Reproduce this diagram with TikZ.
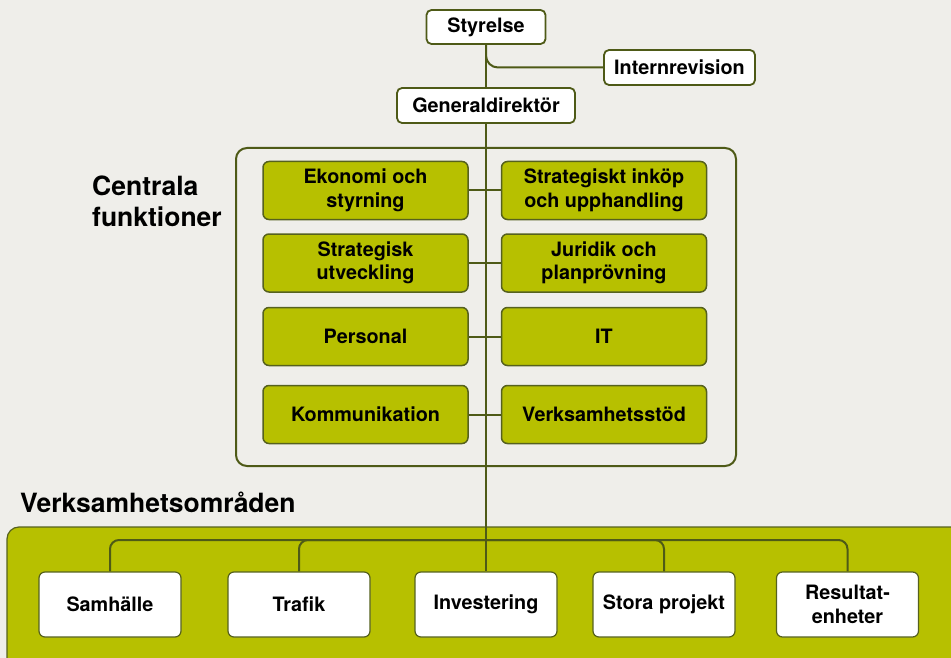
\documentclass[tikz,border=0pt]{standalone}
\usepackage{fontspec}
\setmainfont{TeX Gyre Heros}
\usetikzlibrary{calc}
\definecolor{bgc}{HTML}{EFEEEA}
\definecolor{gr}{HTML}{B7C000}
\definecolor{ln}{HTML}{4E5A17}
\definecolor{bd}{HTML}{56611E}
\tikzset{
  boxtxt/.style={font=\fontsize{19.8}{23.5}\selectfont\bfseries, align=center, text=black},
  whitebox/.style={boxtxt, draw=ln, line width=1.8pt, fill=white, rounded corners=5pt, inner sep=0pt},
  greenbox/.style={boxtxt, draw=bd, line width=1.5pt, fill=gr, rounded corners=6pt, inner sep=0pt, minimum width=205pt, minimum height=58pt},
  areabox/.style={boxtxt, draw=bd, line width=1.2pt, fill=white, rounded corners=6pt, inner sep=0pt, minimum width=142pt, minimum height=65pt},
  conn/.style={draw=ln, line width=2pt},
  head/.style={font=\fontsize{26.5}{31}\selectfont\bfseries, align=left, inner sep=0pt, text=black}
}
\begin{document}
\begin{tikzpicture}[x=1pt,y=-1pt]
\fill[bgc] (0,0) rectangle (951,658);
\useasboundingbox (0,0) rectangle (951,658);
% frames
\draw[draw=ln, line width=2pt, rounded corners=11pt] (236,148) rectangle (736,466);
\draw[draw=bd, line width=1.2pt, fill=gr, rounded corners=12pt] (7,527) rectangle (965,670);
% top nodes
\node[whitebox, minimum width=119pt, minimum height=34pt] (sty) at (486,27) {Styrelse};
\node[whitebox, minimum width=151pt, minimum height=35pt] (intr) at (679.5,67.5) {Internrevision};
\node[whitebox, minimum width=178pt, minimum height=35pt] (gd) at (486,105.5) {Generaldirektör};
% central functions
\node[greenbox] (l1) at (365.5,190.5) {Ekonomi och\\styrning};
\node[greenbox] (r1) at (604,190.5) {Strategiskt inköp\\och upphandling};
\node[greenbox] (l2) at (365.5,263) {Strategisk\\utveckling};
\node[greenbox] (r2) at (604,263) {Juridik och\\planprövning};
\node[greenbox] (l3) at (365.5,336.5) {Personal};
\node[greenbox] (r3) at (604,336.5) {IT};
\node[greenbox] (l4) at (365.5,414.5) {Kommunikation};
\node[greenbox] (r4) at (604,414.5) {Verksamhetsstöd};
% areas
\node[areabox] (sam) at (110,604.5) {Samhälle};
\node[areabox] (tra) at (299,604.5) {Trafik};
\node[areabox] (inv) at (486,604.5) {Investering};
\node[areabox] (sto) at (664,604.5) {Stora projekt};
\node[areabox] (res) at (847.5,604.5) {Resultat-\\enheter};
% headings
\node[head, anchor=base west] (cf) at (92,226) {Centrala\\funktioner};
\node[head, anchor=base west] (vo) at (20,512) {Verksamhetsområden};
% connectors
\coordinate (hb) at (486,540);
\draw[conn] (sty.south) -- (gd.north);
\draw[conn, rounded corners=12pt] (sty.south) |- (intr.west);
\draw[conn] (gd.south) -- (inv.north);
\foreach \a/\b in {l1/r1,l2/r2,l3/r3,l4/r4}{
  \draw[conn] (\a.east) -- (\b.west);
}
\draw[conn, rounded corners=9pt] (sam.north) |- (hb) -| (res.north);
\draw[conn, rounded corners=9pt] (tra.north) |- (hb);
\draw[conn, rounded corners=9pt] (sto.north) |- (hb);
\end{tikzpicture}
\end{document}
